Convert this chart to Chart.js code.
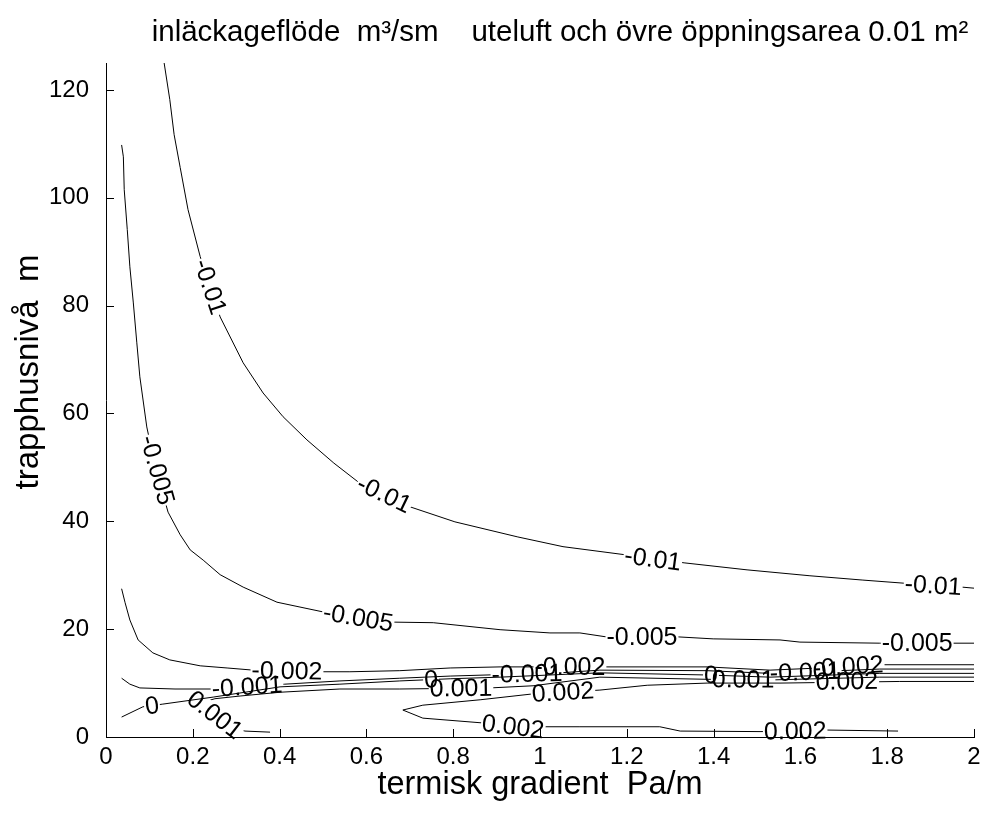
<!DOCTYPE html>
<html>
<head>
<meta charset="utf-8">
<script src="https://cdn.jsdelivr.net/npm/chart.js@4.4.1/dist/chart.umd.min.js"></script>
<style>
  html, body { margin: 0; padding: 0; background: #fff; }
</style>
</head>
<body>
<canvas id="chart" width="985" height="818"></canvas>
<script>
// axis ticks
const xTicks = [0, 0.2, 0.4, 0.6, 0.8, 1, 1.2, 1.4, 1.6, 1.8, 2]
const yTicks = [0, 20, 40, 60, 80, 100, 120]

// contour lines, [termisk gradient, trapphusnivå]
const lineM010 = [[0.134,125.0],[0.147,118.2],[0.157,111.7],[0.171,105.6],[0.189,97.8],[0.217,89.1],[0.263,77.9],[0.316,69.4],[0.362,63.8],[0.408,59.4],[0.463,55.1],[0.525,50.8],[0.581,47.3],[0.700,42.7],[0.804,39.9],[0.949,37.1],[1.053,35.3],[1.196,33.8],[1.332,32.3],[1.477,31.0],[1.622,29.9],[1.744,29.1],[1.859,28.4],[1.972,27.8],[2.0,27.6]]
const lineM005 = [[0.036,109.8],[0.040,107.6],[0.042,101.5],[0.049,94.1],[0.055,87.2],[0.063,80.5],[0.071,73.1],[0.078,66.8],[0.094,57.5],[0.113,50.3],[0.143,41.7],[0.171,37.5],[0.194,34.7],[0.224,32.8],[0.263,30.1],[0.316,27.8],[0.394,25.0],[0.447,24.1],[0.500,23.2],[0.581,22.1],[0.666,21.3],[0.754,21.2],[0.908,19.9],[1.023,19.3],[1.092,19.3],[1.150,18.6],[1.311,18.6],[1.399,18.2],[1.553,18.0],[1.599,17.6],[1.783,17.4],[1.952,17.4],[2.0,17.4]]
const lineM002 = [[0.036,27.5],[0.044,24.9],[0.055,21.7],[0.074,18.0],[0.108,15.6],[0.147,14.3],[0.217,13.2],[0.279,12.8],[0.339,12.4],[0.498,12.1],[0.562,12.1],[0.677,12.3],[0.793,12.8],[0.908,13.0],[1.138,13.0],[1.385,13.0],[1.530,12.4],[1.645,12.8],[1.783,13.4],[2.0,13.4]]
const lineM001 = [[0.036,10.9],[0.055,9.8],[0.078,9.1],[0.159,8.9],[0.240,8.9],[0.412,9.8],[0.539,10.4],[0.677,10.9],[0.793,11.3],[1.046,11.9],[1.138,12.4],[1.385,12.3],[1.530,11.8],[1.691,12.3],[1.783,12.6],[2.0,12.6]]
const line0 = [[0.036,3.7],[0.085,5.6],[0.131,6.1],[0.247,7.4],[0.401,9.3],[0.539,9.8],[0.677,10.4],[0.793,10.8],[0.908,11.1],[1.138,11.9],[1.385,11.5],[1.530,11.1],[1.783,11.8],[2.0,11.8]]
const lineP001 = [[0.378,0.9],[0.320,1.1],[0.286,2.0],[0.217,6.3],[0.251,7.1],[0.309,7.6],[0.401,8.3],[0.539,8.9],[0.677,8.9],[0.885,9.1],[0.984,9.5],[1.138,11.1],[1.385,10.7],[1.541,10.6],[1.783,11.1],[2.0,11.1]]
const lineP002 = [[2.0,10.3],[1.829,10.3],[1.553,10.0],[1.385,10.0],[1.247,9.6],[1.138,8.7],[1.053,8.3],[0.984,8.0],[0.862,6.9],[0.730,5.9],[0.684,5.0],[0.730,3.5],[0.869,2.6],[0.938,1.9],[1.092,1.9],[1.276,1.9],[1.323,1.1],[1.507,1.0],[1.588,1.1],[1.652,1.3],[1.825,1.1]]

// where the level labels sit on each line
const labM010 = [[0.240,83.5],[0.641,45.0],[1.260,33.0],[1.906,28.1]]
const labM005 = [[0.118,49.5],[0.581,22.1],[1.235,18.6],[1.869,17.4]]
const labM002 = [[0.417,12.25],[1.069,13.0],[1.710,13.1]]
const labM001 = [[0.325,9.3],[0.970,11.7],[1.611,12.05]]
const lab0 = [[0.106,5.8],[0.749,10.65],[1.394,11.5]]
const labP001 = [[0.251,4.1],[0.818,9.05],[1.468,10.65]]
const labP002 = [[1.053,8.3],[0.938,1.9],[1.707,10.3],[1.588,1.1]]

const levels = ['-0.01', '-0.005', '-0.002', '-0.001', '0', '0.001', '0.002']
const lines = [lineM010, lineM005, lineM002, lineM001, line0, lineP001, lineP002]
const labelSpots = [labM010, labM005, labM002, labM001, lab0, labP001, labP002]

const FONT = "'Liberation Sans', Arial, sans-serif"
const LABEL_SIZE = 25
const TICK_LEN = 8

function toPts(arr) {
  return arr.map(p => ({ x: p[0], y: p[1] }))
}

// label boxes in pixels, angle follows the nearest stretch of its own line
function labelBoxes(chart, ds) {
  const xs = chart.scales.x, ys = chart.scales.y
  const ctx = chart.ctx
  ctx.save()
  ctx.font = `${LABEL_SIZE}px ${FONT}`
  const w = ctx.measureText(ds.level).width
  ctx.restore()
  const px = ds.data.map(p => [xs.getPixelForValue(p.x), ys.getPixelForValue(p.y)])
  return ds.spots.map(s => {
    const cx = xs.getPixelForValue(s[0])
    const cy = ys.getPixelForValue(s[1])
    let best = Infinity, ang = 0
    for (let i = 0; i < px.length - 1; i++) {
      const [x1, y1] = px[i], [x2, y2] = px[i + 1]
      const dx = x2 - x1, dy = y2 - y1
      const len2 = dx * dx + dy * dy || 1
      let t = ((cx - x1) * dx + (cy - y1) * dy) / len2
      t = Math.max(0, Math.min(1, t))
      const ex = x1 + t * dx - cx, ey = y1 + t * dy - cy
      const d = ex * ex + ey * ey
      if (d < best) { best = d; ang = Math.atan2(dy, dx) }
    }
    if (ang > Math.PI / 2) ang -= Math.PI
    if (ang < -Math.PI / 2) ang += Math.PI
    return { cx, cy, ang, w: w + 2, h: LABEL_SIZE * 0.75 }
  })
}

const contourLabels = {
  id: 'contourLabels',
  beforeDatasetDraw(chart, args) {
    const ds = chart.data.datasets[args.index]
    const ctx = chart.ctx
    ctx.save()
    ctx.beginPath()
    ctx.rect(0, 0, chart.width, chart.height)
    labelBoxes(chart, ds).forEach(b => {
      const c = Math.cos(b.ang), s = Math.sin(b.ang)
      const hw = b.w / 2, hh = b.h / 2
      const corners = [[-hw, -hh], [hw, -hh], [hw, hh], [-hw, hh]]
      corners.forEach(([u, v], i) => {
        const X = b.cx + u * c - v * s
        const Y = b.cy + u * s + v * c
        if (i === 0) ctx.moveTo(X, Y); else ctx.lineTo(X, Y)
      })
      ctx.closePath()
    })
    ctx.clip('evenodd')
  },
  afterDatasetDraw(chart) {
    chart.ctx.restore()
  },
  afterDatasetsDraw(chart) {
    const ctx = chart.ctx
    chart.data.datasets.forEach(ds => {
      labelBoxes(chart, ds).forEach(b => {
        ctx.save()
        ctx.translate(b.cx, b.cy)
        ctx.rotate(b.ang)
        ctx.font = `${LABEL_SIZE}px ${FONT}`
        ctx.fillStyle = '#000'
        ctx.textAlign = 'center'
        ctx.textBaseline = 'middle'
        ctx.fillText(ds.level, 0, 1)
        ctx.restore()
      })
    })
  }
}

// inward tick marks, as the original axes have them
const inwardTicks = {
  id: 'inwardTicks',
  afterDraw(chart) {
    const { ctx, chartArea: a } = chart
    const xs = chart.scales.x, ys = chart.scales.y
    ctx.save()
    ctx.strokeStyle = '#000'
    ctx.lineWidth = 1
    ctx.beginPath()
    xTicks.forEach(v => {
      const p = Math.round(xs.getPixelForValue(v)) + 0.5
      ctx.moveTo(p, a.bottom)
      ctx.lineTo(p, a.bottom - TICK_LEN)
    })
    yTicks.forEach(v => {
      const p = Math.round(ys.getPixelForValue(v)) + 0.5
      ctx.moveTo(a.left, p)
      ctx.lineTo(a.left + TICK_LEN, p)
    })
    ctx.stroke()
    ctx.restore()
  }
}

// the original sets its title a bit right of centre and its y label a bit high
const labelOffsets = {
  id: 'labelOffsets',
  afterLayout(chart) {
    const t = chart.titleBlock
    if (t) {
      t.left = chart.chartArea.left + 40
      t.right = chart.chartArea.right
    }
    const ys = chart.scales.y
    if (ys && !ys._shifted) {
      const base = ys.drawTitle.bind(ys)
      ys.drawTitle = function () {
        this.ctx.save()
        this.ctx.translate(0, -28)
        base()
        this.ctx.restore()
      }
      ys._shifted = true
    }
  }
}

const datasets = lines.map((ln, i) => ({
  level: levels[i],
  spots: labelSpots[i],
  data: toPts(ln),
  showLine: true,
  borderColor: '#000',
  borderWidth: 1,
  pointRadius: 0,
  fill: false,
  tension: 0
}))

new Chart(document.getElementById('chart'), {
  type: 'scatter',
  data: { datasets },
  plugins: [contourLabels, inwardTicks, labelOffsets],
  options: {
    responsive: false,
    animation: false,
    events: [],
    layout: { padding: { left: 0, right: 11, top: 0, bottom: 0 } },
    plugins: {
      legend: { display: false },
      tooltip: { enabled: false },
      title: {
        display: true,
        text: 'inläckageflöde  m³/sm    uteluft och övre öppningsarea 0.01 m²',
        color: '#000',
        font: { family: FONT, size: 29.5, weight: 'normal', lineHeight: 1.2 },
        padding: { top: 15, bottom: 12.6 }
      }
    },
    scales: {
      x: {
        type: 'linear',
        min: 0,
        max: 2,
        afterFit: s => { s.height = 81 },
        afterBuildTicks: s => { s.ticks = xTicks.map(v => ({ value: v })) },
        grid: { display: false },
        border: { display: true, color: '#000', width: 1 },
        ticks: {
          color: '#000',
          padding: -2,
          maxRotation: 0,
          autoSkip: false,
          font: { family: FONT, size: 24 },
          callback: v => String(v)
        },
        title: {
          display: true,
          text: 'termisk gradient  Pa/m',
          color: '#000',
          font: { family: FONT, size: 32.5 },
          padding: { top: 0, bottom: 13 }
        }
      },
      y: {
        type: 'linear',
        min: 0,
        max: 125,
        afterFit: s => { s.width = 106 },
        afterBuildTicks: s => { s.ticks = yTicks.map(v => ({ value: v })) },
        grid: { display: false },
        border: { display: true, color: '#000', width: 1 },
        ticks: {
          color: '#000',
          padding: 9,
          autoSkip: false,
          font: { family: FONT, size: 24 },
          callback: v => String(v)
        },
        title: {
          display: true,
          text: 'trapphusnivå  m',
          color: '#000',
          font: { family: FONT, size: 33 },
          padding: { top: 9, bottom: 0 }
        }
      }
    }
  }
})
</script>
</body>
</html>
